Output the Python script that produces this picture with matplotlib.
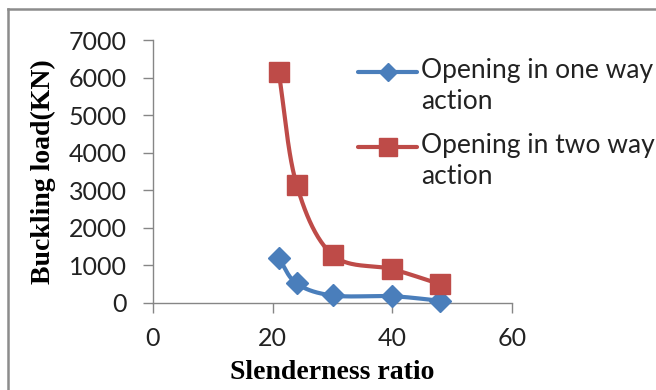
import numpy as np
import matplotlib
matplotlib.use("Agg")
import matplotlib.pyplot as plt
from matplotlib.lines import Line2D

# slenderness ratio of the tested walls
slenderness = [21, 24, 30, 40, 48]
# buckling loads (kN)
one_way = [1200, 520, 200, 180, 60]
two_way = [6150, 3150, 1280, 900, 500]

labels = ["Opening in one way\naction", "Opening in two way\naction"]
x_ticks = [0, 20, 40, 60]
y_ticks = [0, 1000, 2000, 3000, 4000, 5000, 6000, 7000]

blue = "#4A7EBB"
red = "#BE4B48"


def smooth(x, y, n=40):
    """Catmull-Rom curve through the points, like a smoothed spreadsheet line."""
    x = np.asarray(x, float)
    y = np.asarray(y, float)
    px = np.concatenate([[2 * x[0] - x[1]], x, [2 * x[-1] - x[-2]]])
    py = np.concatenate([[2 * y[0] - y[1]], y, [2 * y[-1] - y[-2]]])
    xs, ys = [], []
    t = np.linspace(0, 1, n)
    for i in range(1, len(px) - 2):
        for arr, out in ((px, xs), (py, ys)):
            p0, p1, p2, p3 = arr[i - 1:i + 3]
            seg = 0.5 * ((2 * p1) + (-p0 + p2) * t
                         + (2 * p0 - 5 * p1 + 4 * p2 - p3) * t ** 2
                         + (-p0 + 3 * p1 - 3 * p2 + p3) * t ** 3)
            out.extend(seg)
    return np.array(xs), np.array(ys)


fig = plt.figure(figsize=(6.56, 3.9), dpi=100)
ax = fig.add_axes([153 / 656, 1 - 303 / 390, 359 / 656, 263 / 390])

tick_font = dict(family="Lato", size=18, color="#222222")
styles = [(one_way, blue, "D", 11), (two_way, red, "s", 15)]

for ys, color, marker, ms in styles:
    sx, sy = smooth(slenderness, ys)
    ax.plot(sx, sy, color=color, lw=3, solid_capstyle="round", zorder=2)
    ax.plot(slenderness, ys, ls="none", marker=marker, ms=ms,
            mfc=color, mec=color, zorder=3, clip_on=False)

ax.set_xlim(0, 60)
ax.set_ylim(0, 7000)
ax.set_xticks(x_ticks)
ax.set_yticks(y_ticks)
ax.set_xticklabels([str(v) for v in x_ticks], fontdict=tick_font)
ax.set_yticklabels([str(v) for v in y_ticks], fontdict=tick_font)

for side in ("top", "right"):
    ax.spines[side].set_visible(False)
for side in ("left", "bottom"):
    ax.spines[side].set_color("#868686")
    ax.spines[side].set_linewidth(1)
ax.tick_params(axis="y", length=7, width=1, color="#868686", pad=12)
ax.tick_params(axis="x", length=7, width=1, color="#868686", pad=10)

label_font = dict(family="Liberation Serif", weight="bold", size=20)
ax.set_xlabel("Slenderness ratio", **label_font)
ax.set_ylabel("Buckling load(KN)", **label_font)
ax.xaxis.set_label_coords(0.5, -0.215)
ax.yaxis.set_label_coords(-0.27, 0.5)

# legend: handle sits beside the first line of each wrapped label
legend_rows = [72, 147]
for (ys, color, marker, ms), label, row in zip(styles, labels, legend_rows):
    yf = 1 - row / 390
    fig.add_artist(Line2D([358 / 656, 417 / 656], [yf, yf], transform=fig.transFigure,
                          color=color, lw=3, solid_capstyle="round"))
    fig.add_artist(Line2D([387.5 / 656], [yf], transform=fig.transFigure, color=color,
                          marker=marker, ms=ms * 0.85, mfc=color, mec=color, ls="none"))
    fig.text(421 / 656, 1 - (row - 14) / 390, label, family="Lato", size=19,
             color="#222222", ha="left", va="top", linespacing=1.3)

# outer frame of the chart area
fig.add_artist(Line2D([8 / 656, 8 / 656], [0, 1 - 9 / 390], transform=fig.transFigure,
                      color="#8C8C8C", lw=1.8))
fig.add_artist(Line2D([8 / 656, 1], [1 - 9 / 390, 1 - 9 / 390], transform=fig.transFigure,
                      color="#8C8C8C", lw=1.8))

fig.savefig("out.png", dpi=100)
